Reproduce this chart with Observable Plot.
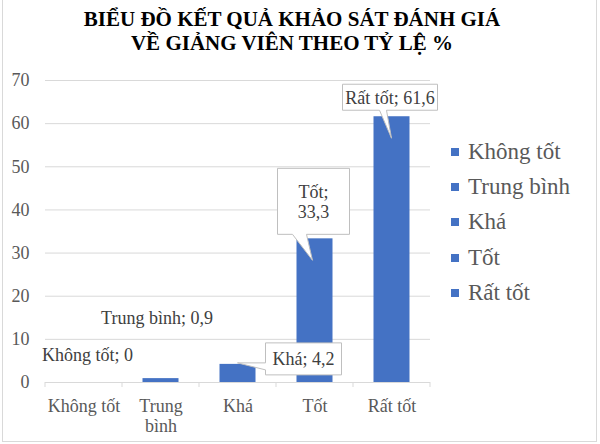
<!DOCTYPE html>
<html><head><meta charset="utf-8">
<script src="https://cdn.jsdelivr.net/npm/d3@7"></script>
<script src="https://cdn.jsdelivr.net/npm/@observablehq/plot@0.6"></script>
<style>
body{margin:0;background:#fff;}
#chart{position:relative;width:600px;height:444px;overflow:hidden;font-family:"Liberation Serif","Times New Roman",Tinos,serif;background:#fff;}
#title{height:64px;box-sizing:border-box;padding-top:8px;padding-right:16px;text-align:center;font-weight:bold;font-size:21px;line-height:23.5px;color:#000;}
#legend{position:absolute;left:451px;top:134px;}
.row{display:flex;align-items:center;height:35.3px;font-size:23px;color:#595959;white-space:nowrap;}
.sw{width:8px;height:8px;background:#4472C4;margin-right:9px;flex:none;}
#frame{position:absolute;left:2px;top:-1px;width:595px;height:443px;border:1px solid #d9d9d9;box-sizing:border-box;pointer-events:none;}
</style></head>
<body>
<div id="chart">
  <div id="title"></div>
  <div id="plot"></div>
  <div id="legend"></div>
  <div id="frame"></div>
</div>
<script>
// ---- data ----
const titleLines = ["BIỂU ĐỒ KẾT QUẢ KHẢO SÁT ĐÁNH GIÁ", "VỀ GIẢNG VIÊN THEO TỶ LỆ %"];
const categories = ["Không tốt", "Trung bình", "Khá", "Tốt", "Rất tốt"];
const values = [0, 0.9, 4.2, 33.3, 61.6];
const xTickLabels = ["Không tốt", "Trung\nbình", "Khá", "Tốt", "Rất tốt"];
const yTicks = [0, 10, 20, 30, 40, 50, 60, 70];

const data = categories.map((c, i) => ({cat: c, value: values[i]}));
const fmt = v => String(v).replace(".", ",");
const FONT = '"Liberation Serif", "Times New Roman", Tinos, serif';

// ---- callout layout (pixel offsets relative to bar top centre) ----
const calloutLayout = {
  "Không tốt": {dx: 4, dy: -27},
  "Trung bình": {dx: -3.5, dy: -60},
  "Khá": {box: [28, 104, -21, 11], wedge: "left", base: [-1, 6], tip: [0, -1]},
  "Tốt": {box: [-37, 35, -70, -4], wedge: "bottom", base: [-22, -8], tip: [-2, 22], wrap: true},
  "Rất tốt": {box: [-49, 46, -32, -6], wedge: "bottom", base: [-12, -5], tip: [0, 22]}
};

document.getElementById("title").innerHTML = titleLines.join("<br>");

function catTicks(index, scales) {
  const g = d3.create("svg:g").attr("stroke", "#d9d9d9");
  const bw = scales.x.bandwidth ? scales.x.bandwidth() : 0;
  const y0 = scales.y(0);
  const xs = categories.map(c => scales.x(c));
  xs.push(scales.x(categories[categories.length - 1]) + bw);
  xs.forEach(x => g.append("line").attr("x1", x).attr("x2", x).attr("y1", y0).attr("y2", y0 + 5));
  return g.node();
}

function callouts(index, scales) {
  const g = d3.create("svg:g").attr("font-size", 18).attr("fill", "#404040")
    .attr("font-family", FONT);
  const bw = scales.x.bandwidth ? scales.x.bandwidth() : 0;
  data.forEach(d => {
    const L = calloutLayout[d.cat];
    const cx = scales.x(d.cat) + bw / 2, cy = scales.y(d.value);
    const label = L.wrap ? [d.cat + ";", fmt(d.value)] : [d.cat + "; " + fmt(d.value)];
    let tx, ty;
    if (L.box) {
      const [l, r, t, b] = L.box;
      const x0 = cx + l, x1 = cx + r, y0 = cy + t, y1 = cy + b;
      let p;
      if (L.wedge === "bottom") {
        p = `M${x0},${y0}H${x1}V${y1}H${cx + L.base[1]}L${cx + L.tip[0]},${cy + L.tip[1]}L${cx + L.base[0]},${y1}H${x0}Z`;
      } else {
        p = `M${x0},${y0}H${x1}V${y1}H${x0}V${cy + L.base[1]}L${cx + L.tip[0]},${cy + L.tip[1]}L${x0},${cy + L.base[0]}Z`;
      }
      g.append("path").attr("d", p).attr("fill", "white").attr("stroke", "#bfbfbf").attr("stroke-width", 1);
      tx = (x0 + x1) / 2; ty = (y0 + y1) / 2;
    } else {
      tx = cx + L.dx; ty = cy + L.dy;
    }
    const text = g.append("text").attr("text-anchor", "middle");
    label.forEach((s, i) => text.append("tspan")
      .attr("x", tx).attr("y", ty + (i - (label.length - 1) / 2) * 20).attr("dy", "0.35em").text(s));
  });
  return g.node();
}

const plot = Plot.plot({
  width: 600, height: 380,
  marginTop: 16, marginBottom: 62, marginLeft: 45, marginRight: 170,
  style: {fontFamily: FONT, fontSize: "18px", color: "#595959", background: "transparent", overflow: "visible"},
  x: {domain: categories, padding: 0, label: null},
  y: {domain: [0, 70], label: null},
  marks: [
    Plot.ruleY(yTicks, {stroke: "#d9d9d9", strokeWidth: 1, strokeOpacity: 1}),
    Plot.axisY({ticks: yTicks, tickSize: 0, tickPadding: 16, label: null, fontSize: 18, fontFamily: FONT}),
    Plot.axisX({tickSize: 0, tickPadding: 15, label: null, fontSize: 18, fontFamily: FONT, lineHeight: 1.12,
      tickFormat: d => xTickLabels[categories.indexOf(d)]}),
    catTicks,
    Plot.barY(data, {x: "cat", y: "value", fill: "#4472C4", insetLeft: 20.5, insetRight: 20.5}),
    callouts
  ]
});
document.getElementById("plot").appendChild(plot);

const legend = d3.select("#legend");
categories.forEach(c => {
  const row = legend.append("div").attr("class", "row");
  row.append("div").attr("class", "sw");
  row.append("span").text(c);
});
</script>
</body></html>
